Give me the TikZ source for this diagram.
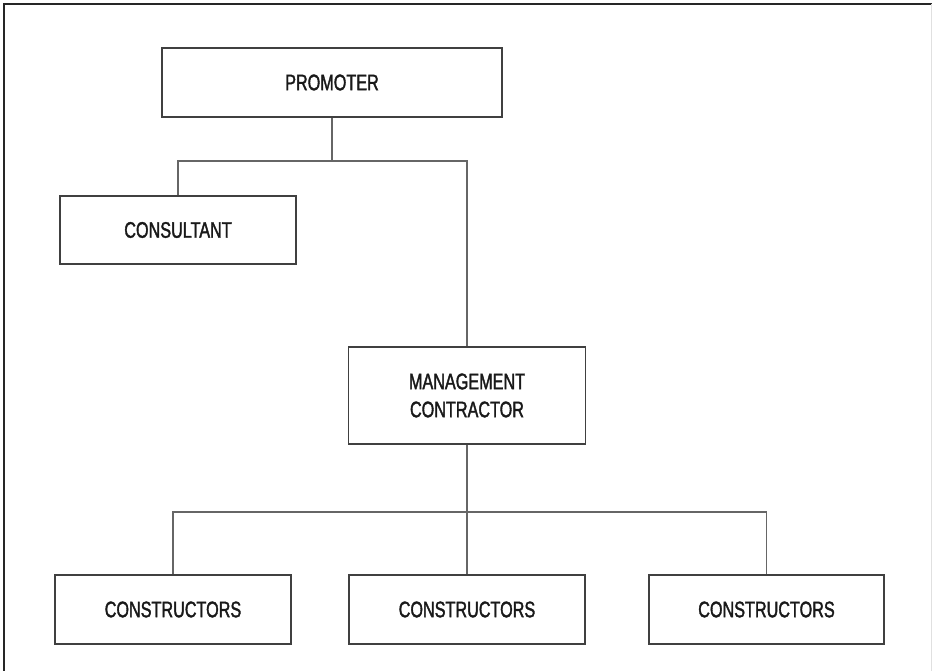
\documentclass[tikz,border=0pt]{standalone}
\usepackage{fontspec}
\setmainfont[FakeStretch=0.72,FakeBold=1.6]{Liberation Sans}
\begin{document}
\begin{tikzpicture}[x=1pt,y=-1pt,
  orgbox/.style={draw=black!75,line width=1.3pt,fill=white,inner sep=0pt,
    font=\fontsize{22.5}{28}\selectfont,align=center,text=black!90},
  link/.style={draw=black!60,line width=1.3pt}]
\useasboundingbox (0,0) rectangle (932,671);
% outer frame
\draw[black!85,line width=1.6pt] (4,671) -- (4,4) -- (932,4);
\draw[black!12,line width=1pt] (931,4) -- (931,671);

% boxes
\node[orgbox,minimum width=340pt,minimum height=69pt] (prom) at (332,82.5) {PROMOTER};
\node[orgbox,minimum width=236pt,minimum height=68pt] (cons) at (178,230) {CONSULTANT};
\node[orgbox,minimum width=237pt,minimum height=97pt] (mc) at (467,395.5) {MANAGEMENT\\CONTRACTOR};
\node[orgbox,minimum width=236pt,minimum height=69pt] (c1) at (173,609.5) {CONSTRUCTORS};
\node[orgbox,minimum width=236pt,minimum height=69pt] (c2) at (467,609.5) {CONSTRUCTORS};
\node[orgbox,minimum width=235pt,minimum height=69pt] (c3) at (766.5,609.5) {CONSTRUCTORS};

% junction points
\coordinate (j1) at (332,161);
\coordinate (j2) at (467,512);

% promoter branch
\draw[link] (prom.south) -- (j1);
\draw[link] (j1) -| (cons.north);
\draw[link] (j1) -| (mc.north);

% management contractor branch
\draw[link] (mc.south) -- (j2);
\draw[link] (j2) -| (c1.north);
\draw[link] (j2) -- (c2.north);
\draw[link] (j2) -| (c3.north);
\end{tikzpicture}
\end{document}
